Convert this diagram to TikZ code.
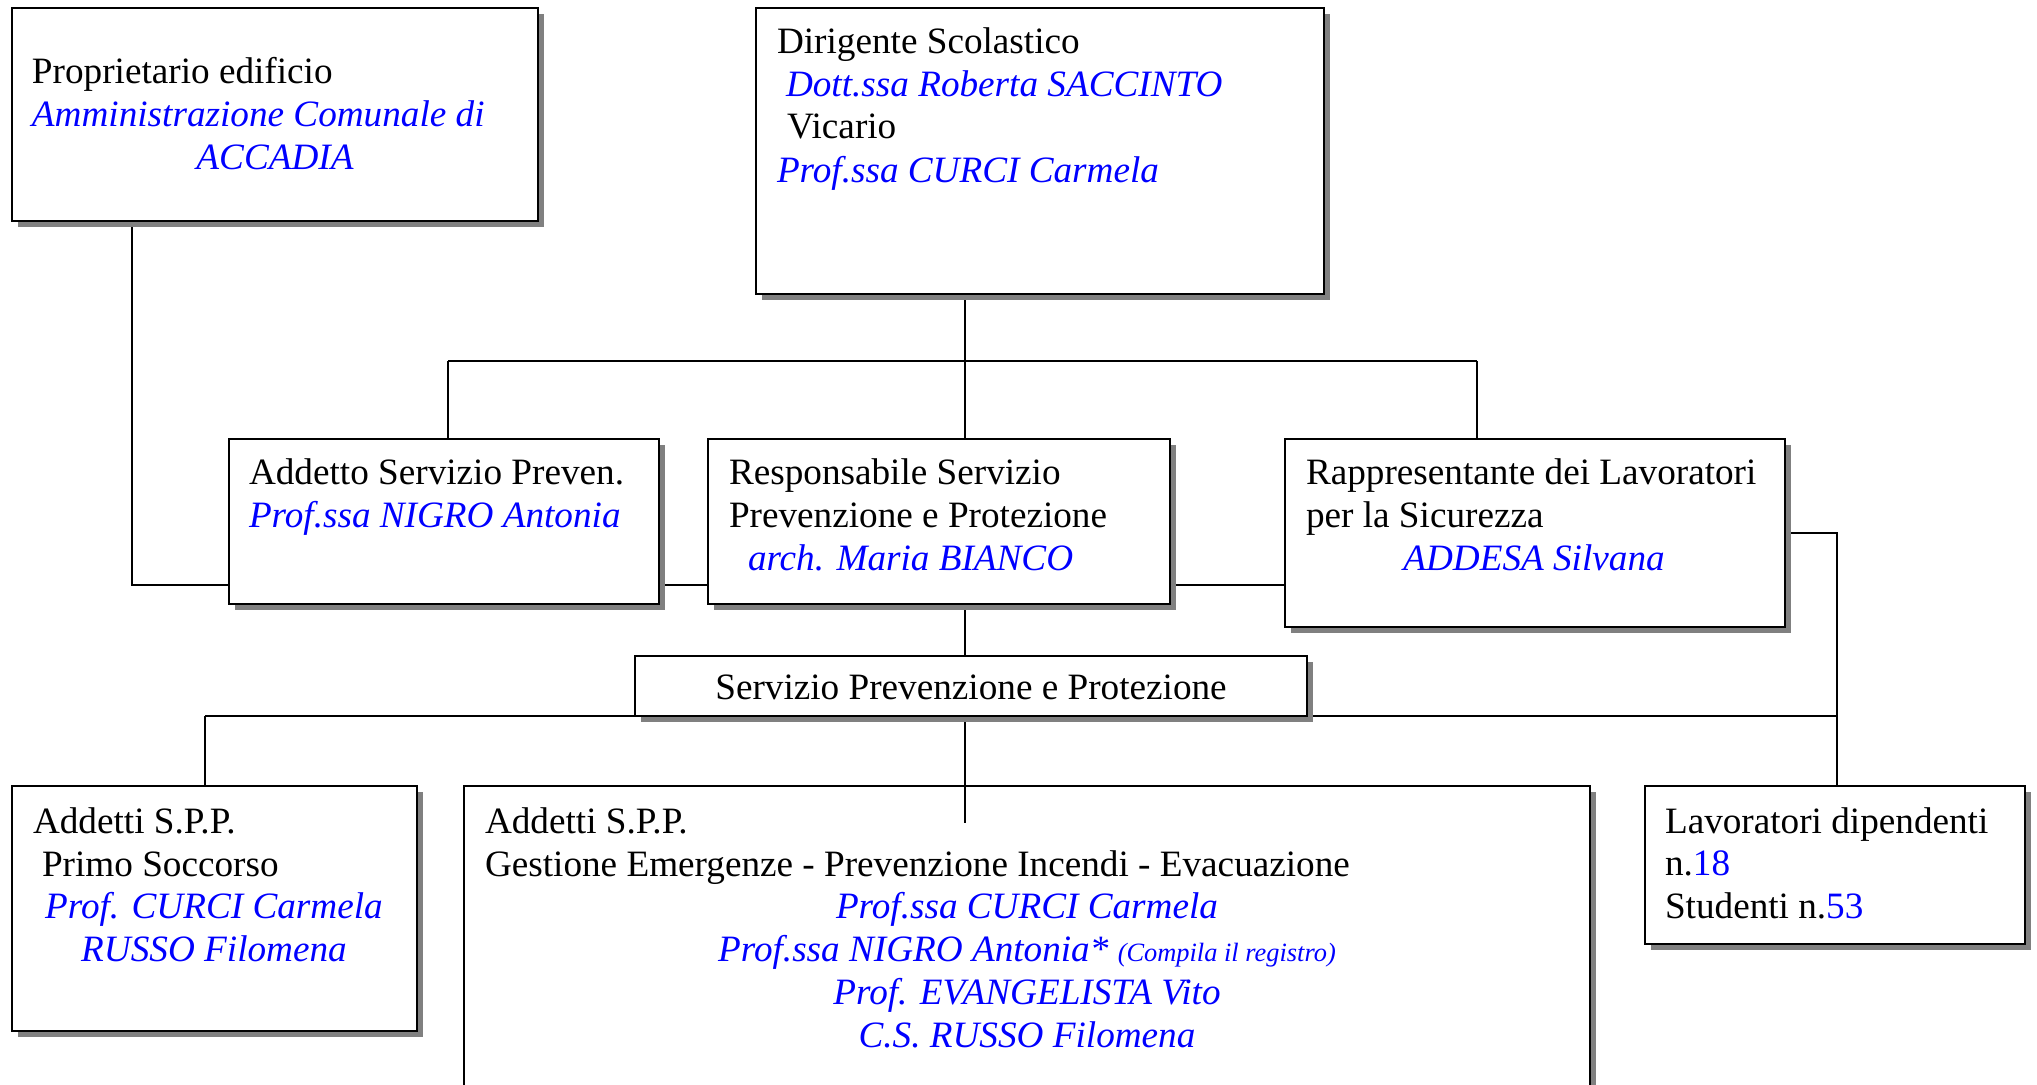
\documentclass[tikz,border=0pt]{standalone}
\usepackage{fontspec}
\setmainfont{Liberation Serif}
\usetikzlibrary{shadows}
\definecolor{nameblue}{RGB}{0,0,255}
\tikzset{
  box/.style={draw=black, line width=1.3pt, fill=white, inner sep=0pt, outer sep=0pt,
    drop shadow={shadow xshift=3pt, shadow yshift=-3pt, fill=black!50, opacity=1}},
  conn/.style={draw=black, line width=1pt},
  txt/.style={inner sep=0pt, outer sep=0pt, font=\fontsize{18.6}{21.5}\selectfont},
  nm/.style={txt, text=nameblue, font=\fontsize{18.6}{21.5}\selectfont\itshape},
}
\newcommand\Bx[5]{\node[box, anchor=north west, minimum width={(#4-#2)*0.5pt}, minimum height={(#5-#3)*0.5pt}] (#1) at (#2,#3) {};}
\newcommand\TL[5][txt]{\node[#1, anchor=base west] (#2) at (#3,#4) {#5};}
\newcommand\TC[5][txt]{\node[#1, anchor=base] (#2) at (#3,#4) {#5};}
\newcommand\Bl[1]{\textcolor{nameblue}{#1}}
\begin{document}
\begin{tikzpicture}[x=0.5pt, y=-0.5pt]
\path[use as bounding box] (0,0) rectangle (2037,1084);
\clip (0,0) rectangle (2037,1084);
% boxes
\Bx{prop}{12}{8}{538}{221}
\Bx{dir}{756}{8}{1324}{294}
% junction coordinates
\coordinate (bl) at (448,361);
\coordinate (br) at (1477,361);
\coordinate (spine) at (965,361);
\coordinate (b2l) at (205,716);
\coordinate (b2r) at (1837,716);
\coordinate (bigend) at (965,823);
% bus lines drawn beneath boxes
\draw[conn] (bl) -- (br);
\draw[conn] (b2l) -- (b2r);
\Bx{asp}{229}{439}{659}{604}
\Bx{resp}{708}{439}{1170}{604}
\Bx{rapp}{1285}{439}{1785}{627}
\Bx{spp}{635}{656}{1307}{716}
\Bx{ps}{12}{786}{417}{1031}
\Bx{big}{464}{786}{1590}{1130}
\Bx{lav}{1645}{786}{2025}{944}
% connectors
\coordinate (h1) at ([yshift=9.5pt]asp.south east);
\coordinate (h2) at ([yshift=9.5pt]resp.south east);
\draw[conn] ([xshift=60pt,yshift=-3pt]prop.south west) |- ([yshift=9.5pt]asp.south west);
\draw[conn] ([yshift=-3pt]spine |- dir.south) -- (spine);
\draw[conn] (bl) -- (bl |- asp.north);
\draw[conn] (spine) -- (spine |- resp.north);
\draw[conn] (br) -- (br |- rapp.north);
\draw[conn] ([xshift=3pt]h1) -- (h1 -| resp.west);
\draw[conn] ([xshift=3pt]h2) -- (h2 -| rapp.west);
\draw[conn] ([yshift=-3pt]spine |- resp.south) -- (spine |- spp.north);
\draw[conn] (b2l) -- (b2l |- ps.north);
\draw[conn] ([xshift=3pt]rapp.east) -| (b2r |- lav.north);
\draw[conn] ([yshift=-3pt]spine |- spp.south) -- (bigend);
% texts
\TL{t1}{32}{83}{Proprietario edificio}
\TL[nm]{t2}{32}{126}{Amministrazione Comunale di}
\TC[nm]{t3}{275}{169}{ACCADIA}
\TL{t4}{777}{53}{Dirigente Scolastico}
\TL[nm]{t5}{786}{96}{Dott.ssa Roberta SACCINTO}
\TL{t6}{787}{138}{Vicario}
\TL[nm]{t7}{777}{182}{Prof.ssa CURCI Carmela}
\TL{t8}{249}{484}{Addetto Servizio Preven.}
\TL[nm]{t9}{249}{527}{Prof.ssa NIGRO Antonia}
\TL{t10}{729}{484}{Responsabile Servizio}
\TL{t11}{729}{527}{Prevenzione e Protezione}
\TL[nm]{t12}{748}{570}{arch. Maria BIANCO}
\TL{t13}{1306}{484}{Rappresentante dei Lavoratori}
\TL{t14}{1306}{527}{per la Sicurezza}
\TC[nm]{t15}{1534}{570}{ADDESA Silvana}
\TC{t16}{971}{699}{Servizio Prevenzione e Protezione}
\TL{t17}{33}{833}{Addetti S.P.P.}
\TL{t18}{42}{876}{Primo Soccorso}
\TC[nm]{t19}{214}{918}{Prof. CURCI Carmela}
\TC[nm]{t20}{214}{961}{RUSSO Filomena}
\TL{t21}{485}{833}{Addetti S.P.P.}
\TL{t22}{485}{876}{Gestione Emergenze - Prevenzione Incendi - Evacuazione}
\TC[nm]{t23}{1027}{918}{Prof.ssa CURCI Carmela}
\TC[nm]{t24}{1027}{961}{Prof.ssa NIGRO Antonia* {\fontsize{13.2}{15}\selectfont(Compila il registro)}}
\TC[nm]{t25}{1027}{1004}{Prof. EVANGELISTA Vito}
\TC[nm]{t26}{1027}{1047}{C.S. RUSSO Filomena}
\TL{t27}{1665}{833}{Lavoratori dipendenti}
\TL{t28}{1665}{875}{n.\Bl{18}}
\TL{t29}{1665}{918}{Studenti n.\Bl{53}}
\end{tikzpicture}
\end{document}
